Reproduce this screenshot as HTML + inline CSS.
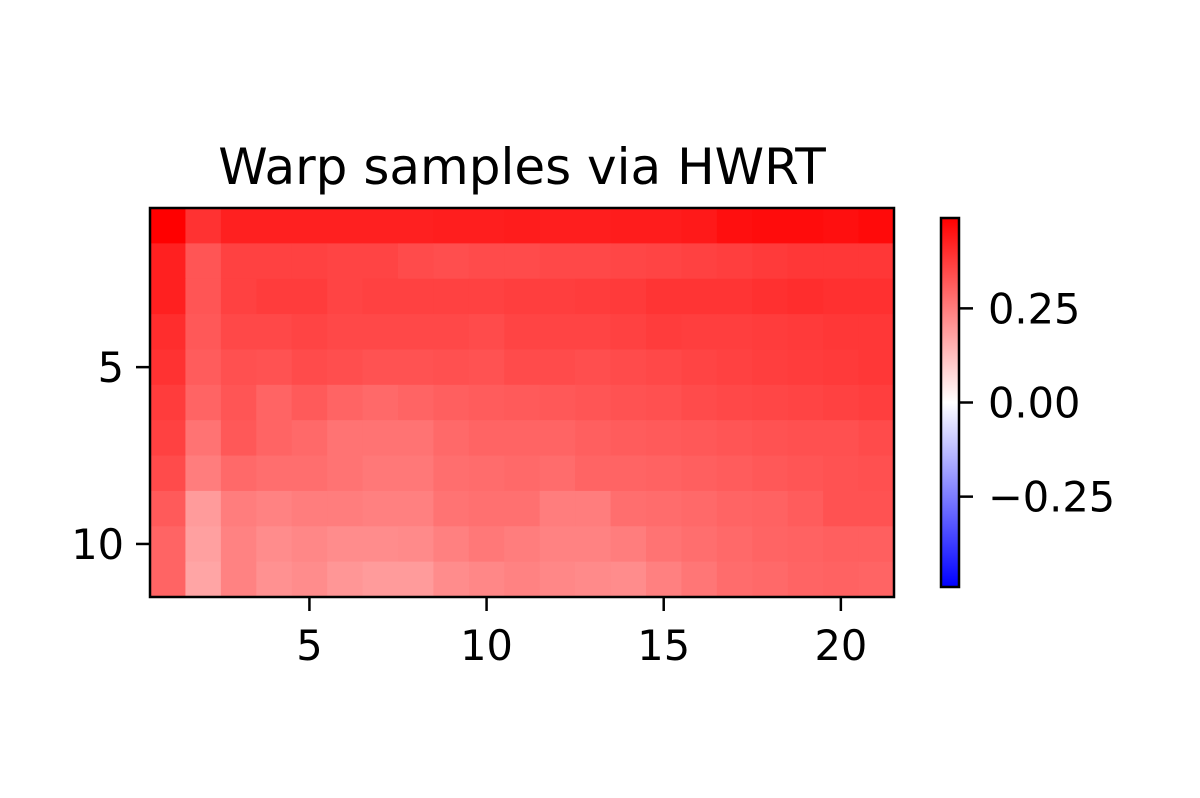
<!DOCTYPE html>
<html><head><meta charset="utf-8"><style>body{margin:0;background:#fff}svg{display:block;font-family:"DejaVu Sans","Liberation Sans",sans-serif}</style></head>
<body>
<svg id="c" width="1200" height="798">
<defs><linearGradient id="bwr" x1="0" y1="1" x2="0" y2="0"><stop offset="0" stop-color="#0000ff"/><stop offset="0.5" stop-color="#ffffff"/><stop offset="1" stop-color="#ff0000"/></linearGradient></defs>
<text x="522" y="184" font-size="50" text-anchor="middle">Warp samples via HWRT</text>
<g id="cells"></g>
<rect x="150" y="208" width="744" height="389" fill="none" stroke="#000" stroke-width="2.5"/>
<g id="axes"></g>
<rect x="941" y="218" width="18" height="369" fill="url(#bwr)" stroke="#000" stroke-width="2.5"/>
<g id="cbticks"></g>
</svg>
<script>
const VMAX = 0.49;
const xTicks = [5, 10, 15, 20];
const yTicks = [5, 10];
const cbTicks = [0.25, 0, -0.25];
const cbLabels = ["0.25", "0.00", "\u22120.25"];
const g = [
[0,50,32,32,32,32,32,32,30,30,28,30,30,28,28,25,15,12,12,15,10],
[32,85,65,65,65,68,68,75,78,75,75,72,72,70,68,65,62,58,55,55,55],
[32,85,65,60,60,68,65,65,65,65,62,62,60,58,52,52,52,48,45,48,48],
[45,88,72,72,68,72,72,72,72,75,68,68,68,65,60,62,62,60,58,55,55],
[50,92,80,82,75,78,82,82,80,82,75,75,78,75,72,68,65,62,60,58,55],
[60,100,85,100,90,100,105,100,95,92,90,88,85,82,80,75,72,70,68,65,62],
[65,115,88,100,105,115,115,115,105,100,100,100,95,92,90,88,85,82,80,80,75],
[75,125,105,110,110,115,120,120,110,108,105,108,100,100,98,95,92,88,85,82,80],
[90,155,125,130,125,125,128,128,115,112,112,125,125,110,108,105,100,98,92,82,82],
[100,160,130,140,135,140,140,138,128,120,125,130,130,125,115,110,105,100,98,95,95],
[100,165,130,145,140,150,155,155,140,135,130,135,138,140,128,118,108,105,100,98,100]];
const values = g.map(r => r.map(v => +(VMAX * (1 - v / 255)).toFixed(3)));
const NS = "http://www.w3.org/2000/svg";
const X0 = 150, X1 = 894, Y0 = 208, Y1 = 597;
const nR = values.length, nC = values[0].length;
const cw = (X1 - X0) / nC, ch = (Y1 - Y0) / nR;
const xs = c => X0 + (c - 0.5) * cw;
const ys = r => Y0 + (r - 0.5) * ch;
function color(v) {
  let t = Math.max(-1, Math.min(1, v / VMAX));
  if (t >= 0) { const k = Math.round(255 * (1 - t)); return `rgb(255,${k},${k})`; }
  const k = Math.round(255 * (1 + t)); return `rgb(${k},${k},255)`;
}
const cells = document.getElementById('cells');
values.forEach((row, r) => row.forEach((v, c) => {
  const e = document.createElementNS(NS, 'rect');
  e.setAttribute('x', xs(c + 1) - cw / 2); e.setAttribute('y', ys(r + 1) - ch / 2);
  e.setAttribute('width', cw + 0.5); e.setAttribute('height', ch + 0.5);
  e.setAttribute('fill', color(v));
  
  
  cells.appendChild(e);
}));
const axes = document.getElementById('axes');
function add(parent, tag, attrs, text) {
  const e = document.createElementNS(NS, tag);
  for (const k in attrs) e.setAttribute(k, attrs[k]);
  if (text !== undefined) e.textContent = text;
  parent.appendChild(e); return e;
}
xTicks.forEach(t => {
  const l = add(axes, 'line', {x1: xs(t), x2: xs(t), y1: Y1, y2: Y1 + 14, stroke: '#000', 'stroke-width': 2.5});
  
  
  const tx = add(axes, 'text', {x: xs(t), y: Y1 + 63, 'font-size': 41.5, 'text-anchor': 'middle'}, String(t));
  
  
});
yTicks.forEach(t => {
  const l = add(axes, 'line', {x1: X0 - 14, x2: X0, y1: ys(t), y2: ys(t), stroke: '#000', 'stroke-width': 2.5});
  
  
  const tx = add(axes, 'text', {x: X0 - 26, y: ys(t) + 15, 'font-size': 41.5, 'text-anchor': 'end'}, String(t));
  
  
});
const cb = document.getElementById('cbticks');
const CB0 = 218, CB1 = 587;
const cbY = v => CB1 - (v + VMAX) / (2 * VMAX) * (CB1 - CB0);
cbTicks.forEach((t, i) => {
  const l = add(cb, 'line', {x1: 959, x2: 973, y1: cbY(t), y2: cbY(t), stroke: '#000', 'stroke-width': 2.5});
  
  
  const tx = add(cb, 'text', {x: 988, y: cbY(t) + 15, 'font-size': 41.5}, cbLabels[i]);
  
  
});
</script>
</body></html>
